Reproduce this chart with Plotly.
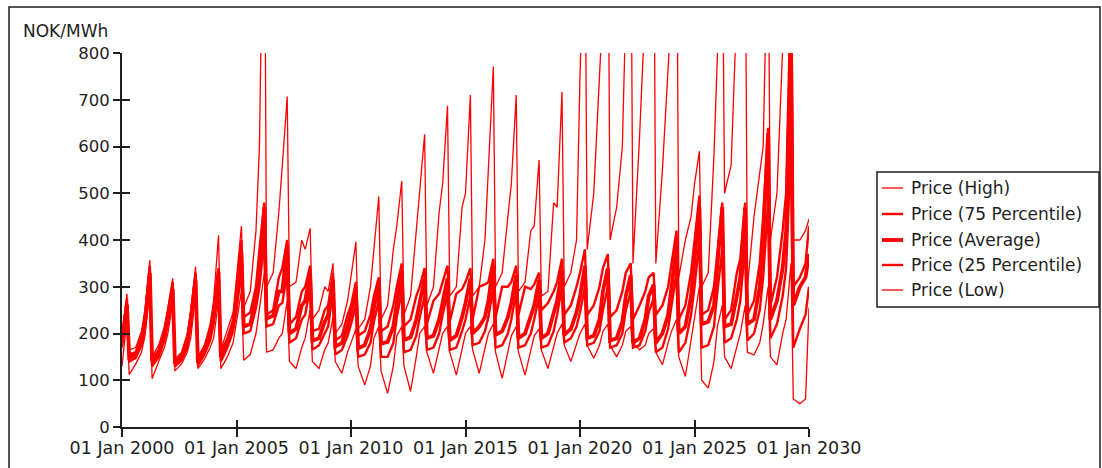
import plotly.graph_objects as go

# ---------------- data (NOK/MWh) ----------------
# five readings per year: 01 Jan, spring peak (20 Mar), after spring drop (25 Apr),
# summer (08 Aug), late autumn (07 Nov); one final reading on 01 Jan 2030
YEARS = list(range(2000, 2030))
PHASES = ["01-01", "03-20", "04-25", "08-08", "11-07"]
END_DATE = "2030-01-01"

SERIES_NAMES = ["Price (High)", "Price (75 Percentile)", "Price (Average)",
                "Price (25 Percentile)", "Price (Low)"]

PRICE_HIGH = [
    200, 285, 165, 170, 205,   # 2000
    250, 357, 150, 175, 215,   # 2001
    255, 318, 145, 160, 200,   # 2002
    250, 343, 150, 175, 220,   # 2003
    270, 410, 165, 210, 245,   # 2004
    320, 430, 255, 290, 420,   # 2005
    600, 1300, 300, 330, 460,  # 2006
    560, 707, 300, 310, 400,   # 2007
    380, 425, 230, 250, 300,   # 2008
    290, 350, 200, 220, 270,   # 2009
    320, 396, 210, 230, 300,   # 2010
    380, 493, 230, 260, 380,   # 2011
    430, 526, 240, 280, 420,   # 2012
    490, 626, 260, 300, 460,   # 2013
    520, 687, 280, 300, 470,   # 2014
    500, 710, 280, 300, 400,   # 2015
    560, 771, 300, 330, 450,   # 2016
    520, 710, 290, 310, 420,   # 2017
    430, 571, 280, 290, 480,   # 2018
    470, 717, 300, 330, 400,   # 2019
    750, 1100, 380, 500, 750,  # 2020
    900, 1200, 400, 470, 600,  # 2021
    900, 1200, 350, 620, 900,  # 2022
    1000, 1200, 350, 550, 750, # 2023
    900, 1200, 320, 400, 450,  # 2024
    520, 590, 300, 330, 580,   # 2025
    800, 1100, 500, 560, 900,  # 2026
    1000, 1100, 300, 450, 550, # 2027
    600, 1100, 400, 500, 900,  # 2028
    1000, 1400, 400, 400, 420, # 2029
    445,                       # 2030
]

PRICE_P75 = [
    190, 275, 155, 160, 195,
    235, 345, 145, 165, 205,
    245, 310, 140, 155, 190,
    240, 330, 145, 170, 210,
    250, 340, 160, 190, 230,
    290, 400, 235, 245, 300,
    380, 480, 240, 250, 320,
    340, 400, 220, 235, 290,
    300, 345, 205, 210, 250,
    260, 330, 185, 195, 240,
    260, 310, 195, 205, 240,
    280, 320, 205, 215, 260,
    300, 350, 215, 230, 280,
    300, 340, 220, 270, 285,
    310, 345, 225, 285, 295,
    310, 340, 230, 300, 305,
    310, 360, 235, 300, 300,
    310, 345, 240, 300, 295,
    305, 330, 250, 265, 290,
    310, 360, 240, 260, 300,
    330, 380, 240, 260, 300,
    340, 370, 235, 250, 290,
    330, 350, 230, 260, 290,
    320, 330, 240, 260, 300,
    350, 420, 230, 260, 330,
    400, 495, 240, 250, 300,
    380, 480, 230, 250, 330,
    360, 480, 240, 270, 350,
    450, 640, 260, 320, 420,
    500, 950, 300, 320, 350,
    430,
]

PRICE_AVG = [
    180, 262, 148, 155, 185,
    225, 330, 140, 158, 195,
    235, 295, 135, 150, 180,
    228, 315, 138, 162, 200,
    235, 332, 150, 180, 220,
    270, 375, 215, 220, 275,
    330, 470, 232, 238, 290,
    290, 390, 200, 210, 260,
    270, 330, 185, 190, 225,
    240, 315, 172, 180, 215,
    245, 293, 168, 175, 210,
    255, 304, 178, 182, 215,
    265, 332, 186, 192, 230,
    265, 318, 190, 195, 230,
    270, 318, 186, 195, 235,
    265, 318, 200, 215, 235,
    270, 347, 197, 205, 235,
    265, 325, 190, 200, 235,
    260, 314, 190, 200, 240,
    270, 336, 197, 210, 245,
    280, 345, 190, 195, 230,
    290, 340, 185, 190, 225,
    280, 325, 180, 190, 230,
    280, 304, 180, 200, 240,
    300, 389, 200, 215, 280,
    360, 470, 220, 225, 260,
    340, 470, 215, 220, 280,
    320, 470, 220, 230, 300,
    400, 628, 230, 270, 340,
    420, 820, 260, 300, 320,
    370,
]

PRICE_P25 = [
    170, 245, 140, 148, 175,
    210, 310, 130, 150, 185,
    220, 280, 130, 142, 170,
    215, 300, 132, 155, 185,
    220, 300, 140, 170, 205,
    250, 335, 200, 205, 255,
    300, 400, 215, 220, 260,
    265, 330, 180, 190, 230,
    240, 300, 165, 175, 200,
    215, 290, 155, 165, 195,
    220, 260, 150, 155, 180,
    225, 270, 150, 150, 180,
    235, 290, 160, 165, 195,
    235, 280, 165, 170, 200,
    240, 285, 165, 170, 205,
    230, 280, 175, 180, 205,
    235, 300, 170, 175, 200,
    230, 290, 170, 175, 200,
    230, 280, 170, 175, 205,
    240, 300, 180, 190, 215,
    245, 300, 175, 180, 205,
    250, 300, 170, 175, 200,
    250, 290, 170, 175, 205,
    245, 275, 160, 170, 210,
    260, 330, 160, 180, 240,
    300, 400, 170, 175, 215,
    290, 380, 180, 190, 230,
    270, 390, 185, 200, 250,
    320, 480, 190, 220, 280,
    340, 600, 170, 210, 240,
    300,
]

PRICE_LOW = [
    130, 230, 112, 135, 160,
    195, 290, 103, 140, 170,
    200, 265, 120, 135, 160,
    190, 280, 125, 145, 170,
    190, 270, 125, 150, 180,
    230, 290, 143, 155, 200,
    250, 330, 160, 165, 190,
    200, 270, 140, 125, 170,
    190, 250, 140, 125, 165,
    180, 235, 140, 115, 160,
    180, 210, 130, 90, 130,
    190, 215, 120, 72, 130,
    195, 215, 130, 76, 150,
    200, 215, 160, 115, 170,
    200, 215, 160, 111, 170,
    200, 215, 165, 115, 170,
    200, 220, 160, 104, 165,
    195, 215, 160, 111, 165,
    195, 210, 165, 125, 170,
    200, 220, 175, 140, 175,
    200, 220, 175, 147, 175,
    205, 220, 175, 150, 175,
    205, 215, 180, 165, 175,
    200, 210, 160, 133, 180,
    205, 230, 150, 108, 190,
    230, 300, 100, 83, 140,
    215, 260, 150, 125, 170,
    200, 260, 160, 154, 180,
    220, 300, 150, 133, 200,
    230, 350, 60, 50, 60,
    255,
]

DATES = [f"{y}-{p}" for y in YEARS for p in PHASES] + [END_DATE]

SERIES_VALUES = [PRICE_HIGH, PRICE_P75, PRICE_AVG, PRICE_P25, PRICE_LOW]
LINE_WIDTHS = [1.3, 2.4, 3.8, 2.4, 1.3]
RED = "#ff0000"
INK = "#1e1e1e"
FONT = "DejaVu Sans"

# ---------------- figure ----------------
W, H = 1102, 468
PL, PR, PT, PB = 122, 809, 53, 427   # plot area in page pixels


def px(x):
    return (x - PL) / (PR - PL)


def py(y):
    return (PB - y) / (PB - PT)


fig = go.Figure()
for name, vals, lw in zip(SERIES_NAMES, SERIES_VALUES, LINE_WIDTHS):
    fig.add_trace(go.Scatter(x=DATES, y=vals, name=name, mode="lines",
                             line=dict(color=RED, width=lw),
                             showlegend=False))

# invisible trace so the overlay axes (inner half of the crossing ticks) are drawn
fig.add_trace(go.Scatter(x=[], y=[], xaxis="x2", yaxis="y2", showlegend=False,
                         hoverinfo="skip"))

XR = ["2000-01-01", "2030-01-01"]
YR = [0, 800]
common_tick = dict(tickcolor=INK, tickwidth=2, showgrid=False, zeroline=False,
                   automargin=False)

fig.update_layout(
    width=W, height=H,
    margin=dict(l=PL, r=W - PR, t=PT, b=H - PB, pad=0, autoexpand=False),
    paper_bgcolor="white", plot_bgcolor="white",
    font=dict(family=FONT, color=INK, size=16),
    xaxis=dict(type="date", range=XR, tick0="2000-01-01", dtick="M60",
               tickformat="%d %b %Y", ticks="outside", ticklen=8,
               showline=True, linecolor=INK, linewidth=2,
               tickfont=dict(family=FONT, size=17.5, color=INK),
               ticklabelstandoff=-4, **common_tick),
    yaxis=dict(range=YR, dtick=100, tick0=0, ticks="outside", ticklen=7,
               showline=True, linecolor=INK, linewidth=2,
               tickfont=dict(family=FONT, size=16.5, color=INK),
               ticklabelstandoff=0, **common_tick),
    xaxis2=dict(type="date", range=XR, tick0="2000-01-01", dtick="M60",
                overlaying="x", anchor="y", side="bottom", ticks="inside",
                ticklen=7, showticklabels=False, showline=False, **common_tick),
    yaxis2=dict(range=YR, dtick=100, tick0=0, overlaying="y", anchor="x",
                side="left", ticks="inside", ticklen=8, showticklabels=False,
                showline=False, **common_tick),
)

shapes = []
annotations = []

# outer frame of the picture
shapes.append(dict(type="rect", xref="paper", yref="paper",
                   x0=px(9), x1=px(1100), y0=py(480), y1=py(7),
                   line=dict(color=INK, width=1.5), fillcolor="rgba(0,0,0,0)",
                   layer="below"))

# unit label
annotations.append(dict(text="NOK/MWh", xref="paper", yref="paper",
                        x=px(21), y=py(31), xanchor="left", yanchor="middle",
                        showarrow=False, font=dict(family=FONT, size=17, color=INK)))

# legend box
LX0, LX1, LY0, LY1 = 877, 1099, 172, 307
shapes.append(dict(type="rect", xref="paper", yref="paper",
                   x0=px(LX0), x1=px(LX1), y0=py(LY1), y1=py(LY0),
                   line=dict(color=INK, width=1.5), fillcolor="white"))
ROW_Y = [188, 214, 240, 265, 290]
for name, lw, ry in zip(SERIES_NAMES, LINE_WIDTHS, ROW_Y):
    shapes.append(dict(type="line", xref="paper", yref="paper",
                       x0=px(882), x1=px(903), y0=py(ry), y1=py(ry),
                       line=dict(color=RED, width=lw)))
    annotations.append(dict(text=name, xref="paper", yref="paper",
                            x=px(909), y=py(ry), xanchor="left", yanchor="middle",
                            showarrow=False,
                            font=dict(family=FONT, size=17, color=INK)))

fig.update_layout(shapes=shapes, annotations=annotations)
fig.write_html("out.html")
